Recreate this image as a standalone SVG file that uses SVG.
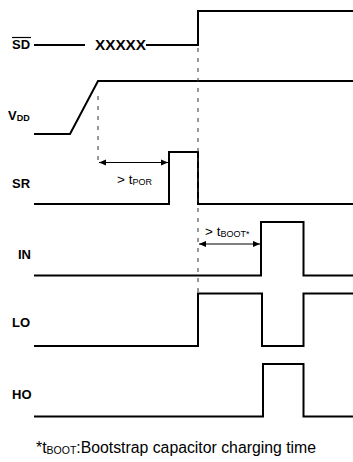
<svg xmlns="http://www.w3.org/2000/svg" width="353" height="462" viewBox="0 0 353 462">
<defs>
<marker id="ah" viewBox="0 0 8 8" refX="8" refY="4" markerWidth="7" markerHeight="7" orient="auto-start-reverse" markerUnits="userSpaceOnUse">
<path d="M0,0.5 L8,4 L0,7.5 Z" fill="#000"/>
</marker>
<style>
.sig{fill:none;stroke:#000;stroke-width:2;stroke-linejoin:miter}
.dash{fill:none;stroke:#333;stroke-width:1;stroke-dasharray:4,6}
.arr{fill:none;stroke:#000;stroke-width:1}
.lbl{font-family:"Liberation Sans",Arial,sans-serif;font-weight:bold;font-size:13px;fill:#000}
.sub{font-size:9px}
.note{font-family:"Liberation Sans",Arial,sans-serif;font-size:13.5px;fill:#000}
.foot{font-family:"Liberation Sans",Arial,sans-serif;font-size:15.8px;fill:#000}
.fsub{font-size:10.5px}
</style>
</defs>
<rect width="353" height="462" fill="#fff"/>
<g id="sd">
<text class="lbl" x="12" y="49">SD</text>
<line x1="12" y1="37.5" x2="31" y2="37.5" stroke="#000" stroke-width="1.2"/>
<polyline class="sig" points="34,45 85,45"/>
<text class="lbl" x="95" y="50" font-size="14" textLength="51" lengthAdjust="spacingAndGlyphs" style="font-size:14px">XXXXX</text>
<polyline class="sig" points="146,45 198,45 198,11 353,11"/>
</g>
<g id="vdd">
<text class="lbl" x="8" y="120">V<tspan class="sub" dy="1">DD</tspan></text>
<polyline class="sig" points="34,134 70,134 98,81 353,81"/>
</g>
<g id="sr">
<text class="lbl" x="12" y="188">SR</text>
<polyline class="sig" points="34,204 169,204 169,152 198,152 198,204 353,204"/>
</g>
<g id="in">
<text class="lbl" x="18" y="259">IN</text>
<polyline class="sig" points="34,275.5 261,275.5 261,222 303.5,222 303.5,275.5 353,275.5"/>
</g>
<g id="lo">
<text class="lbl" x="12" y="327">LO</text>
<polyline class="sig" points="34,346 198,346 198,293.5 262,293.5 262,346 303.5,346 303.5,293.5 353,293.5"/>
</g>
<g id="ho">
<text class="lbl" x="12" y="399">HO</text>
<polyline class="sig" points="34,416.5 263,416.5 263,364 303.5,364 303.5,416.5 353,416.5"/>
</g>
<g id="connectors">
<line class="dash" x1="98" y1="96" x2="98" y2="166"/>
<line class="dash" x1="198" y1="48" x2="198" y2="292"/>
<line class="arr" x1="99" y1="162.5" x2="168" y2="162.5" marker-start="url(#ah)" marker-end="url(#ah)"/>
<line class="arr" x1="199" y1="244" x2="260" y2="244" marker-start="url(#ah)" marker-end="url(#ah)"/>
</g>
<g id="labels">
<text class="note" x="117" y="184">&gt; t<tspan class="sub" dy="1">POR</tspan></text>
<text class="note" x="205" y="236">&gt; t<tspan class="sub" dy="1">BOOT*</tspan></text>
<text class="foot" x="36" y="453">*t<tspan class="fsub" dy="1">BOOT</tspan><tspan dy="-1">:Bootstrap capacitor charging time</tspan></text>
</g>
</svg>
